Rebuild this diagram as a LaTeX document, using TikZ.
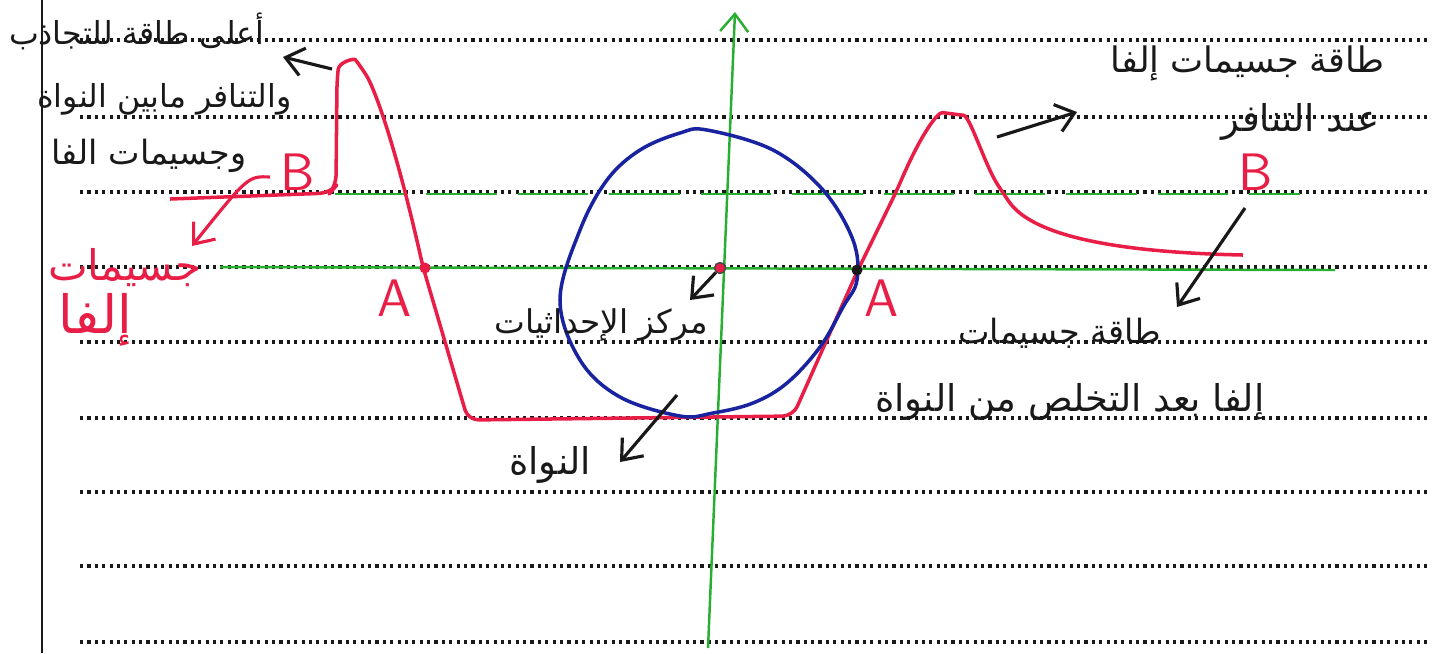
\documentclass[tikz,border=0pt]{standalone}
\usepackage{fontspec}
\usepackage{tikz}
\usetikzlibrary{arrows.meta}
\newfontfamily\arabicfont[Script=Arabic]{DejaVu Sans}
\TeXXeTstate=1
\definecolor{penRed}{RGB}{232,30,70}
\definecolor{penBlue}{RGB}{25,35,160}
\definecolor{penGreen}{RGB}{40,175,50}
\definecolor{penBlack}{RGB}{25,25,25}
\newcommand{\rtltext}[1]{\beginR #1\endR}
\tikzset{
  ruleline/.style={line width=1pt, dash pattern=on 0.9pt off 1.2pt, penBlack},
  marginline/.style={line width=0.6pt, penBlack},
  axisline/.style={line width=0.7pt, penGreen},
  barrier/.style={line width=1pt, penRed, line join=round},
  nucleus/.style={line width=1pt, penBlue},
  pointer/.style={-{Straight Barb[length=5pt,width=8pt]}, line width=0.9pt, penBlack},
  artext/.style={font=\arabicfont\fontsize{#1}{#1}\selectfont, inner sep=0pt, text=penBlack},
  artext/.default=10,
  tagletter/.style={font=\sffamily\fontsize{15}{15}\selectfont, inner sep=0pt, text=penRed},
  hitdot/.style={circle, inner sep=0pt, minimum size=0.11cm, fill=#1}
}
\begin{document}
\begin{tikzpicture}[x=0.01cm, y=-0.01cm]
  \useasboundingbox (0,0) rectangle (1439,653);
  % lined paper
  \draw[marginline] (42,0) -- (42,653);
  \foreach \ly in {40,117,192,267,342,418,492,566,642}
    \draw[ruleline] (80,\ly) -- (1430,\ly);

  % axes
  \draw[axisline, -{Straight Barb[length=5pt,width=8pt]}] (708,648) -- (735,12);
  \draw[axisline] (220,267) -- (1335,270);
  \draw[axisline, dash pattern=on 20pt off 6pt] (335,194) -- (1300,194);

  % potential energy curve
  \draw[barrier, rounded corners=3pt] (170,199) -- (330,193) -- (336,186) -- (337,80)
    .. controls (339,62) and (354,58) .. (362,68)
    .. controls (372,85) and (392,130) .. (423,267) -- (468,420) -- (793,416) -- (857,272)
    -- (897,190) .. controls (922,132) and (938,112) .. (953,114)
    .. controls (970,116) and (985,165) .. (1003,193)
    .. controls (1030,232) and (1100,252) .. (1243,255);

  % nucleus
  \draw[nucleus] plot[smooth cycle, tension=0.6] coordinates {(707,130) (773,150) (823,190)
    (853,240) (857,280) (843,307) (820,347) (787,383) (753,403) (713,413) (680,416)
    (620,397) (580,360) (560,300) (580,230) (607,180) (640,150) (680,133)};

  % crossing points
  \node[hitdot=penRed] (Aleft) at (425,268) {};
  \node[hitdot=penRed, draw=penBlack!80, line width=0.4pt] (origin) at (720,268) {};
  \node[hitdot=penBlack] (Aright) at (857,270) {};

  % letters
  \node[tagletter] (tagAl) at (395,298) {A};
  \node[tagletter] (tagAr) at (882,298) {A};
  \node[tagletter] (tagBl) at (298,172) {B};
  \node[tagletter] (tagBr) at (1256,172) {B};

  % labels
  \node[artext=9, anchor=east] (topOne) at (265,31) {\rtltext{أعلى طاقة للتجاذب}};
  \node[artext=9, anchor=east] (topTwo) at (292,99) {\rtltext{والتنافر مابين النواة}};
  \node[artext=9.5, anchor=east] (topThree) at (247,156) {\rtltext{وجسيمات الفا}};
  \node[artext=12, text=penRed] (alphaOne) at (125,268) {\rtltext{جسيمات}};
  \node[artext=15, text=penRed] (alphaTwo) at (95,320) {\rtltext{إلفا}};
  \node[artext=9.3] (centre) at (601,325) {\rtltext{مركز الإحداثيات}};
  \node[artext=10.5] (core) at (550,465) {\rtltext{النواة}};
  \node[artext=10, anchor=east] (rightOne) at (1385,63) {\rtltext{طاقة جسيمات إلفا}};
  \node[artext=10.5, anchor=east] (rightTwo) at (1380,122) {\rtltext{عند التنافر}};
  \node[artext=9.5, anchor=east] (lowOne) at (1162,333) {\rtltext{طاقة جسيمات}};
  \node[artext=10.5, anchor=east] (lowTwo) at (1265,402) {\rtltext{إلفا بعد التخلص من النواة}};

  % pointers
  \coordinate (peakTail) at (332,69);
  \coordinate (peakHead) at (283,57);
  \coordinate (humpTail) at (997,137);
  \coordinate (humpHead) at (1077,112);
  \coordinate (tailTail) at (1245,208);
  \coordinate (tailHead) at (1177,307);
  \coordinate (originHead) at (690,300);
  \coordinate (coreTail) at (677,395);
  \coordinate (coreHead) at (620,462);
  \coordinate (alphaTail) at (270,177);
  \coordinate (alphaHead) at (192,246);
  \draw[pointer] (peakTail) -- (peakHead);
  \draw[pointer] (humpTail) -- (humpHead);
  \draw[pointer] (tailTail) -- (tailHead);
  \draw[pointer] (origin) -- (originHead);
  \draw[pointer] (coreTail) -- (coreHead);
  \draw[pointer, penRed] (alphaTail) .. controls (248,176) .. (alphaHead);
\end{tikzpicture}
\end{document}
